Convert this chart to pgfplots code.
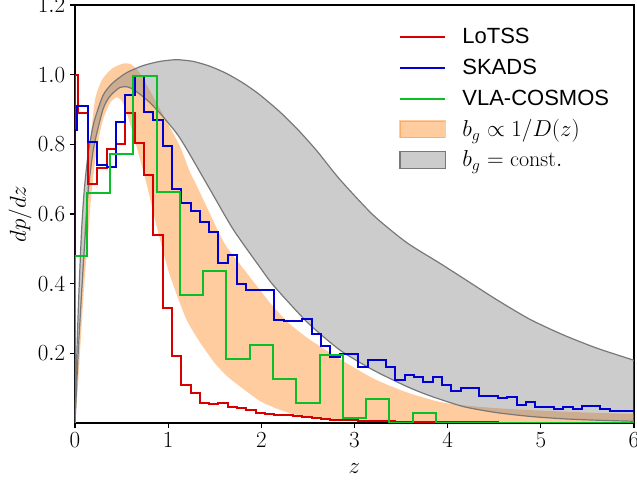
\documentclass[border=0pt]{standalone}
\usepackage{pgfplots}
\pgfplotsset{compat=1.18}
\usepgfplotslibrary{fillbetween}
\usepackage{fontspec}
\newfontfamily\lsans{Liberation Sans}
\definecolor{cred}{RGB}{215,0,0}
\definecolor{cblue}{RGB}{0,0,210}
\definecolor{cgreen}{RGB}{10,190,40}
\definecolor{corange}{RGB}{255,127,14}
\definecolor{cedge}{RGB}{120,120,120}
\pgfplotsset{
  lineleg/.style={legend image code/.code={\draw[##1,line width=1.5pt] (0pt,0pt) -- (34pt,0pt); \path (45pt,0pt);}},
  boxleg/.style={legend image code/.code={\draw[##1] (0pt,-6.3pt) rectangle (34pt,6.3pt); \path (45pt,0pt);}},
}
\begin{document}
\begin{tikzpicture}
\begin{axis}[
  width=419.25pt, height=313.5pt, scale only axis,
  xmin=0, xmax=6, ymin=0, ymax=1.2,
  xtick={0,1,2,3,4,5,6},
  ytick={0.2,0.4,0.6,0.8,1.0,1.2},
  yticklabel style={/pgf/number format/fixed,/pgf/number format/fixed zerofill,/pgf/number format/precision=1},
  tick label style={font=\fontsize{16.5}{20}\selectfont},
  label style={font=\fontsize{18}{22}\selectfont},
  xtick pos=bottom, ytick pos=left, tick align=outside,
  major tick length=3.75pt,
  every tick/.style={black, line width=0.8pt},
  axis line style={black, line width=0.8pt},
  xlabel={$z$}, ylabel={$dp/dz$},
  xlabel style={at={(axis description cs:0.5,-0.122)}, anchor=base},
  ylabel style={at={(axis description cs:-0.098,0.5)}, anchor=center},
  legend style={at={(axis cs:3.475,1.152)}, anchor=north west, draw=none, fill=none,
    font=\fontsize{16.5}{20}\selectfont, row sep=0pt, inner sep=0pt,
    nodes={inner sep=1pt, minimum height=23pt}},
  legend cell align=left,
  lineleg,
]
% b_g propto 1/D(z) band
\addplot[name path=OU, draw=none, forget plot, smooth, tension=0.4] coordinates {
(0,0) (0.03,0.15) (0.06,0.32) (0.097,0.526) (0.125,0.66) (0.16,0.80) (0.215,0.928)
(0.29,0.985) (0.4,1.018) (0.52,1.032) (0.6,1.03) (0.68,1.01) (0.76,0.975) (0.876,0.919)
(1.0,0.858) (1.127,0.794) (1.234,0.72) (1.3,0.685) (1.45,0.6) (1.556,0.54) (1.63,0.505)
(1.77,0.456) (1.985,0.382) (2.13,0.333) (2.31,0.283) (2.49,0.245) (2.63,0.22) (2.84,0.184)
(3.2,0.128) (3.56,0.088) (3.92,0.06) (4.2,0.05) (4.5,0.043) (4.88,0.037) (5.5,0.03) (6,0.026)};
\addplot[name path=OL, draw=none, forget plot, smooth, tension=0.4] coordinates {
(0,0) (0.03,0.1) (0.06,0.23) (0.1,0.40) (0.14,0.53) (0.17,0.64) (0.23,0.78) (0.3,0.87)
(0.38,0.92) (0.45,0.935) (0.5,0.925) (0.55,0.895) (0.63,0.825) (0.7,0.755) (0.77,0.685)
(0.876,0.565) (1.0,0.44) (1.09,0.37) (1.2,0.295) (1.34,0.232) (1.5,0.172) (1.63,0.135)
(1.77,0.105) (1.985,0.063) (2.13,0.045) (2.31,0.028) (2.49,0.018) (2.8,0.01) (3.2,0.005)
(4,0.002) (6,0.0005)};
\addplot[fill=corange, fill opacity=0.4, draw=none, forget plot] fill between[of=OU and OL];
% b_g = const band
\addplot[name path=GU, draw=cedge, line width=0.9pt, forget plot, smooth, tension=0.4] coordinates {
(0,0) (0.02,0.2) (0.04,0.36) (0.07,0.55) (0.1,0.67) (0.14,0.77) (0.2,0.86) (0.3,0.94)
(0.4,0.975) (0.55,1.005) (0.73,1.026) (0.91,1.038) (1.09,1.043) (1.27,1.038) (1.45,1.024)
(1.63,1.003) (1.81,0.975) (1.98,0.943) (2.2,0.893) (2.4,0.84) (2.6,0.78) (2.84,0.70)
(3.2,0.597) (3.56,0.518) (3.92,0.458) (4.2,0.41) (4.52,0.355) (4.88,0.298) (5.24,0.253)
(5.6,0.215) (6,0.18)};
\addplot[name path=GL, draw=cedge, line width=0.9pt, forget plot, smooth, tension=0.4] coordinates {
(0,0) (0.02,0.12) (0.04,0.23) (0.07,0.37) (0.1,0.5) (0.14,0.66) (0.2,0.79) (0.3,0.90)
(0.375,0.938) (0.48,0.963) (0.56,0.965) (0.63,0.957) (0.77,0.928) (0.91,0.89) (1.09,0.832)
(1.2,0.786) (1.45,0.67) (1.7,0.555) (1.98,0.449) (2.13,0.395) (2.49,0.29) (2.84,0.21)
(3.2,0.152) (3.56,0.105) (3.81,0.078) (4.17,0.047) (4.52,0.03) (4.88,0.019) (5.24,0.012)
(5.6,0.008) (6,0.005)};
\addplot[fill=gray, fill opacity=0.4, draw=none, forget plot] fill between[of=GU and GL];
% LoTSS
\addplot[cred, line width=1.5pt, const plot] coordinates {
(0,0) (0,1.0) (0.035,0.89) (0.14,0.687) (0.24,0.733) (0.34,0.787) (0.44,0.80) (0.54,0.89)
(0.64,0.805) (0.74,0.713) (0.84,0.54) (0.94,0.33) (1.04,0.193) (1.14,0.109) (1.24,0.086)
(1.34,0.057) (1.44,0.055) (1.54,0.056) (1.64,0.047) (1.74,0.042) (1.84,0.037) (1.94,0.03)
(2.04,0.026) (2.14,0.022) (2.24,0.022) (2.34,0.02) (2.44,0.016) (2.54,0.014) (2.64,0.012)
(2.74,0.01) (2.84,0.01) (2.94,0.008) (3.04,0.007) (3.14,0.006) (3.24,0.006) (3.34,0.005)
(3.44,0.004) (3.54,0.004) (3.64,0.003) (3.84,0.003) (4.04,0.002) (4.54,0.001) (6.1,0.001)};
\addlegendentry{\lsans LoTSS}
% SKADS
\addplot[cblue, line width=1.5pt, const plot] coordinates {
(0,0) (0,0.842) (0.02,0.909) (0.14,0.808) (0.24,0.74) (0.34,0.735) (0.44,0.863) (0.54,0.943)
(0.64,0.995) (0.74,0.892) (0.84,0.871) (0.94,0.796) (1.04,0.672) (1.14,0.633) (1.24,0.61)
(1.34,0.578) (1.44,0.547) (1.54,0.459) (1.64,0.483) (1.74,0.40) (1.84,0.382) (1.94,0.382)
(2.04,0.382) (2.14,0.296) (2.24,0.293) (2.34,0.293) (2.44,0.298) (2.54,0.256) (2.64,0.221)
(2.74,0.19) (2.84,0.198) (2.94,0.198) (3.04,0.162) (3.14,0.181) (3.24,0.181) (3.34,0.16)
(3.44,0.124) (3.54,0.138) (3.64,0.133) (3.74,0.119) (3.84,0.131) (3.94,0.109) (4.04,0.092)
(4.14,0.1) (4.24,0.1) (4.34,0.078) (4.44,0.078) (4.54,0.071) (4.64,0.076) (4.74,0.052)
(4.84,0.061) (4.94,0.045) (5.04,0.045) (5.14,0.039) (5.24,0.045) (5.34,0.039) (5.44,0.049)
(5.54,0.049) (5.64,0.039) (5.74,0.035) (5.84,0.035) (5.94,0.035) (6.1,0.035)};
\addlegendentry{\lsans SKADS}
% VLA-COSMOS
\addplot[cgreen, line width=1.5pt, const plot] coordinates {
(0,0) (0,0.478) (0.125,0.66) (0.375,0.772) (0.625,0.997) (0.875,0.662) (1.125,0.368)
(1.375,0.435) (1.625,0.183) (1.875,0.224) (2.125,0.127) (2.375,0.056) (2.625,0.195)
(2.875,0.0135) (3.125,0.069) (3.375,0.0) (3.625,0.028) (3.875,0) (6.1,0)};
\addlegendentry{\lsans VLA-COSMOS}
\addlegendimage{boxleg, fill=corange, fill opacity=0.4, draw=corange, draw opacity=0.4, line width=1pt}
\addlegendentry{$b_g \propto 1/D(z)$}
\addlegendimage{boxleg, fill=gray, fill opacity=0.4, draw=cedge, line width=1pt}
\addlegendentry{$b_g = \mathrm{const.}$}
\end{axis}
\pgfresetboundingbox
\path[use as bounding box] (-56.25pt,-46.5pt) rectangle (421.5pt,317.25pt);
\end{tikzpicture}
\end{document}
